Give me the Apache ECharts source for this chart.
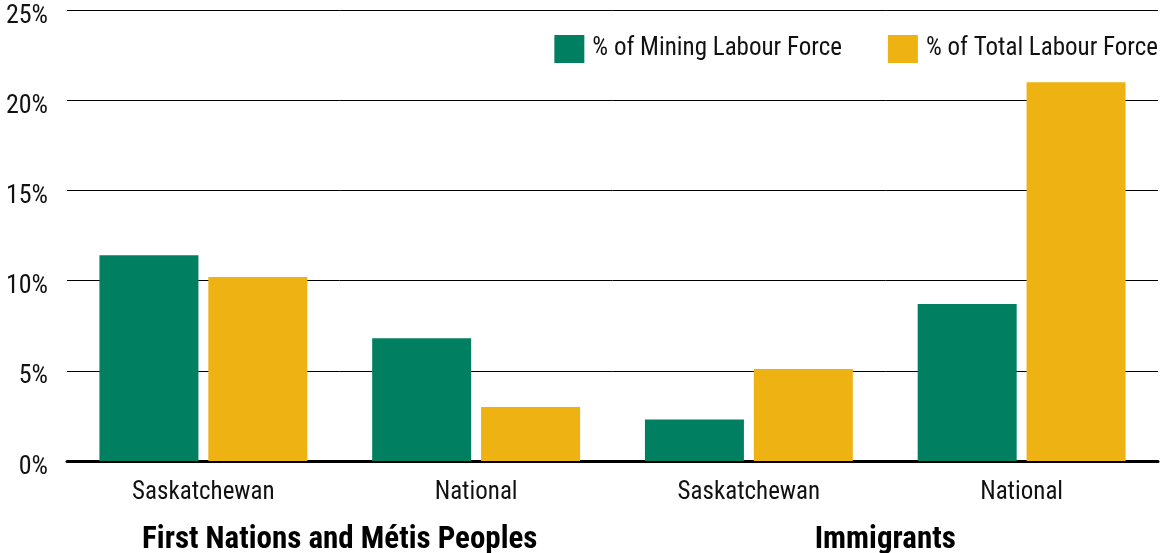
<!DOCTYPE html>
<html>
<head>
<meta charset="utf-8">
<script src="https://cdn.jsdelivr.net/npm/echarts@6/dist/echarts.min.js"></script>
<style>
  html, body { margin: 0; padding: 0; background: #fff; }
  #chart { width: 1160px; height: 553px; }
</style>
</head>
<body>
<div id="chart"></div>
<script>
const categories = ['Saskatchewan', 'National', 'Saskatchewan', 'National']
const groups = ['First Nations and Métis Peoples', 'Immigrants']
const miningShare = [11.4, 6.8, 2.3, 8.7]
const totalShare = [10.2, 3.0, 5.1, 21.0]

const font = "'Roboto Condensed', sans-serif"

const chart = echarts.init(document.getElementById('chart'))
chart.setOption({
  animation: false,
  textStyle: { fontFamily: font },
  color: ['#008060', '#EEB212'],
  grid: { left: 67, right: 2, top: 10, bottom: 92, containLabel: false, outerBoundsMode: 'none' },
  legend: {
    top: 30,
    right: -3,
    icon: 'rect',
    itemWidth: 30,
    itemHeight: 28,
    itemGap: 46,
    textStyle: { fontFamily: font, fontSize: 25, color: '#111', padding: [0, 0, 0, 3] },
    data: ['% of Mining Labour Force', '% of Total Labour Force']
  },
  xAxis: [
    {
      type: 'category',
      data: categories,
      axisLine: { lineStyle: { color: '#000', width: 3 } },
      axisTick: { inside: true, length: 8, lineStyle: { color: '#000', width: 1.5 } },
      axisLabel: { fontFamily: font, fontSize: 25, color: '#111', margin: 19, interval: 0 }
    },
    {
      type: 'category',
      position: 'bottom',
      offset: 56,
      data: groups,
      axisLine: { show: false },
      axisTick: { show: false },
      axisLabel: { fontFamily: font, fontSize: 31, fontWeight: 'bold', color: '#000', interval: 0 }
    }
  ],
  yAxis: {
    type: 'value',
    min: 0,
    max: 25,
    interval: 5,
    axisLine: { show: false },
    axisTick: { show: false },
    axisLabel: {
      formatter: v => '{t|' + v + '%}',
      margin: 19,
      rich: {
        t: { fontFamily: font, fontSize: 26, color: '#111', padding: [12, 0, 0, 0] }
      }
    },
    splitLine: { lineStyle: { color: '#000', width: 1 } }
  },
  series: [
    {
      name: '% of Mining Labour Force',
      type: 'bar',
      data: miningShare,
      barWidth: 99,
      barGap: '10%'
    },
    {
      name: '% of Total Labour Force',
      type: 'bar',
      data: totalShare,
      barWidth: 99,
      barGap: '10%'
    }
  ]
})
</script>
</body>
</html>
